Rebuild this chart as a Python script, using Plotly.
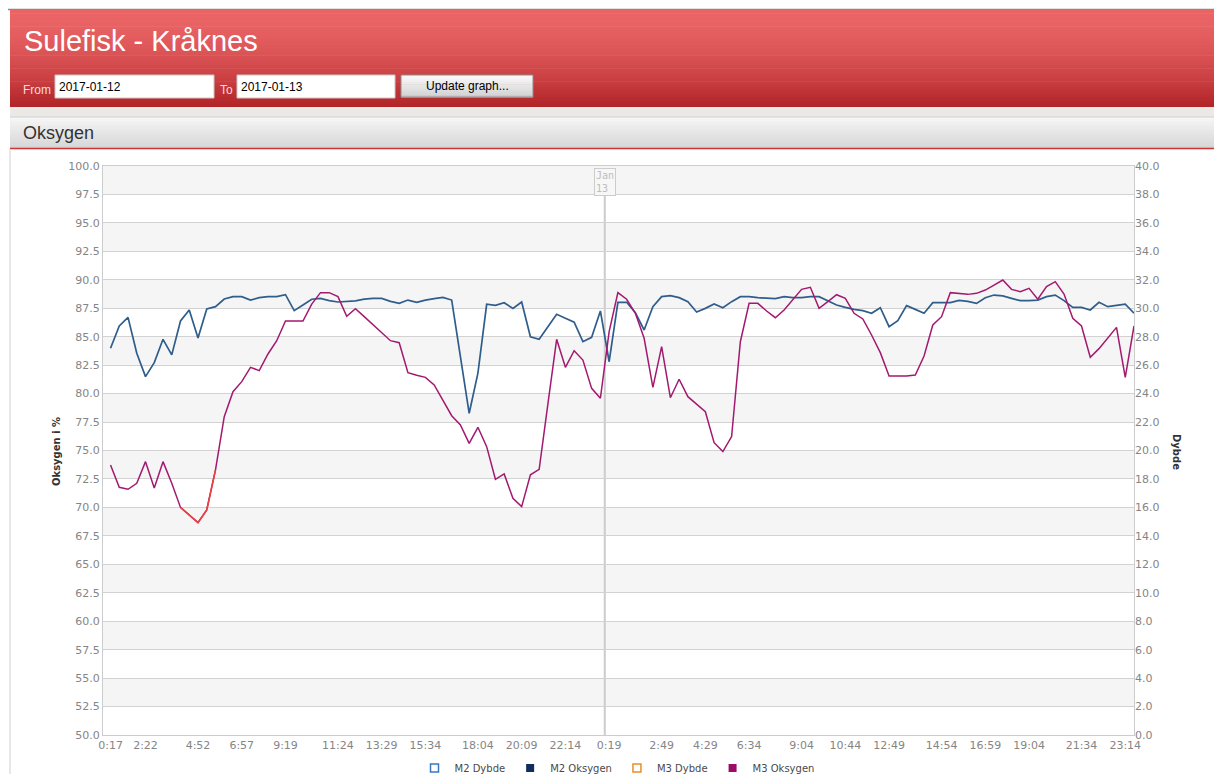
import plotly.graph_objects as go

# ---------------- data ----------------
day1_times = ["00:17", "00:47", "01:22", "01:52", "02:22",
              "02:47", "03:12", "03:37", "04:02", "04:27", "04:52",
              "05:17", "05:42", "06:07", "06:32", "06:57",
              "07:22", "07:47", "08:12", "08:54", "09:19",
              "09:39", "09:59", "10:19", "10:39", "11:04", "11:24",
              "11:49", "12:14", "12:39", "13:04", "13:29",
              "13:54", "14:19", "14:44", "15:09", "15:34",
              "15:59", "16:24", "16:49", "17:14", "17:39", "18:04",
              "18:29", "18:54", "19:19", "19:44", "20:09",
              "20:34", "20:59", "21:24", "21:49", "22:14",
              "22:39", "23:04", "23:29", "23:54"]
day2_times = ["00:19", "00:44", "01:09", "01:34", "01:59", "02:24", "02:49",
              "03:09", "03:29", "03:49", "04:09", "04:29",
              "04:54", "05:19", "05:44", "06:09", "06:34",
              "06:59", "07:24", "07:49", "08:14", "08:39", "09:04",
              "09:24", "09:44", "10:04", "10:24", "10:44",
              "11:09", "11:34", "11:59", "12:24", "12:49",
              "13:09", "13:30", "13:51", "14:12", "14:33", "14:54",
              "15:19", "15:44", "16:09", "16:34", "16:59",
              "17:24", "17:49", "18:14", "18:39", "19:04",
              "19:29", "19:54", "20:19", "20:44", "21:09", "21:34",
              "21:54", "22:14", "22:34", "22:54", "23:14",
              "23:39"]
times = ["2017-01-12 " + t for t in day1_times] + ["2017-01-13 " + t for t in day2_times]

m2_oksygen = [83.98, 85.94, 86.70, 83.54, 81.49, 82.72, 84.77, 83.40, 86.38, 87.35,
              84.89, 87.43, 87.64, 88.31, 88.52, 88.52, 88.22, 88.43, 88.52, 88.52,
              88.69, 87.29, 87.79, 88.29, 88.37, 88.17, 88.05, 88.08, 88.15, 88.30,
              88.37, 88.37, 88.10, 87.93, 88.22, 88.02, 88.22, 88.34, 88.46, 88.22,
              83.30, 78.27, 81.80, 87.85, 87.76, 87.99, 87.49, 88.05, 85.00, 84.77,
              85.88, 86.97, 86.62, 86.27, 84.56, 84.94, 87.26, 82.80, 88.02, 88.02,
              87.10, 85.59, 87.64, 88.52, 88.61, 88.43, 88.08, 87.17, 87.49, 87.87,
              87.55, 88.08, 88.52, 88.52, 88.43, 88.37, 88.34, 88.52, 88.43, 88.43,
              88.52, 88.52, 88.17, 87.79, 87.58, 87.40, 87.29, 87.06, 87.55, 85.88,
              86.40, 87.73, 87.40, 87.06, 87.99, 87.99, 87.99, 88.19, 88.11, 87.93,
              88.43, 88.66, 88.58, 88.37, 88.17, 88.17, 88.22, 88.52, 88.66, 88.17,
              87.58, 87.58, 87.35, 88.02, 87.64, 87.76, 87.87, 87.06]

m3_oksygen = [73.73, 71.77, 71.59, 72.12, 74.02, 71.70, 74.02, 72.12, 70.00, 69.30,
              68.66, 69.77, 73.29, 77.97, 80.17, 81.05, 82.31, 82.02, 83.48, 84.65,
              86.38, 86.38, 86.38, 87.87, 88.87, 88.87, 88.52, 86.80, 87.46, 86.76,
              86.03, 85.30, 84.65, 84.47, 81.84, 81.61, 81.43, 80.76, 79.44, 78.06,
              77.24, 75.63, 77.04, 75.34, 72.47, 72.94, 70.80, 70.07, 72.87, 73.35,
              79.10, 84.77, 82.31, 83.77, 82.95, 80.46, 79.59, 85.44, 88.87, 88.29,
              87.06, 84.86, 80.55, 84.12, 79.64, 81.26, 79.73, 79.09, 78.41, 75.69,
              74.90, 76.22, 84.56, 87.93, 87.93, 87.26, 86.67, 87.35, 88.22, 89.16,
              89.34, 87.49, 88.08, 88.69, 88.37, 87.06, 86.56, 85.15, 83.60, 81.55,
              81.55, 81.55, 81.63, 83.30, 86.03, 86.76, 88.87, 88.81, 88.72, 88.81,
              89.10, 89.54, 89.98, 89.16, 88.96, 89.25, 88.29, 89.40, 89.84, 88.75,
              86.62, 85.94, 83.19, 83.95, 84.86, 85.82, 81.43, 85.94]

m2_dybde = []   # no depth values drawn in the reference
m3_dybde = []

tick_times = ["2017-01-12 00:17", "2017-01-12 02:22", "2017-01-12 04:52", "2017-01-12 06:57",
              "2017-01-12 09:19", "2017-01-12 11:24", "2017-01-12 13:29", "2017-01-12 15:34",
              "2017-01-12 18:04", "2017-01-12 20:09", "2017-01-12 22:14", "2017-01-13 00:19",
              "2017-01-13 02:49", "2017-01-13 04:29", "2017-01-13 06:34", "2017-01-13 09:04",
              "2017-01-13 10:44", "2017-01-13 12:49", "2017-01-13 14:54", "2017-01-13 16:59",
              "2017-01-13 19:04", "2017-01-13 21:34", "2017-01-13 23:14"]
tick_labels = ["0:17", "2:22", "4:52", "6:57", "9:19", "11:24", "13:29", "15:34", "18:04",
               "20:09", "22:14", "0:19", "2:49", "4:29", "6:34", "9:04", "10:44", "12:49",
               "14:54", "16:59", "19:04", "21:34", "23:14"]

# ---------------- geometry helpers (page pixels -> paper) ----------------
W, H = 1214, 774
L, R, T, B = 103, 1134, 166, 735


def px(x):
    return (x - L) / (R - L)


def py(y):
    return (B - y) / (B - T)


def mix(c0, c1, t):
    return "rgb(%d,%d,%d)" % tuple(round(a + (b - a) * t) for a, b in zip(c0, c1))


shapes = []
annotations = []


def prect(x0, y0, x1, y1, fill, line=None, lw=0, layer="above"):
    shapes.append(dict(type="rect", xref="paper", yref="paper",
                       x0=px(x0), x1=px(x1), y0=py(y1), y1=py(y0),
                       fillcolor=fill, line=dict(color=line or fill, width=lw), layer=layer))


def vgrad(x0, y0, x1, y1, c0, c1, n=24, power=1.0):
    h = (y1 - y0) / n
    for k in range(n):
        t = (k / (n - 1)) ** power
        prect(x0, y0 + k * h, x1, y0 + (k + 1) * h + 0.6, mix(c0, c1, t))


def pline(x0, y0, x1, y1, color, w=1):
    shapes.append(dict(type="line", xref="paper", yref="paper",
                       x0=px(x0), x1=px(x1), y0=py(y0), y1=py(y1),
                       line=dict(color=color, width=w), layer="above"))


def ptext(x, y, text, size, color, family="Liberation Sans", xanchor="left"):
    annotations.append(dict(xref="paper", yref="paper", x=px(x), y=py(y), text=text,
                            showarrow=False, xanchor=xanchor, yanchor="middle",
                            font=dict(family=family, size=size, color=color)))


# ---------------- page header ----------------
pline(8, 9.5, W, 9.5, "#8a8a8a", 1.5)
vgrad(10, 10, W, 107, (234, 100, 102), (178, 37, 41), n=30, power=1.6)
ptext(22, 41, "Sulefisk - Kråknes", 29, "white")
ptext(21, 90, "From", 12, "#f7dcdc")
prect(55, 75, 214, 98, "white", "#c9c9c9", 1)
ptext(57, 87, "2017-01-12", 12, "black")
ptext(218, 90, "To", 12, "#f7dcdc")
prect(237, 75, 395, 98, "white", "#c9c9c9", 1)
ptext(239, 87, "2017-01-13", 12, "black")
vgrad(401, 75, 533, 97, (250, 250, 250), (210, 210, 210), n=12)
prect(401, 75, 533, 97, "rgba(0,0,0,0)", "#8c8c8c", 1)
ptext(467, 86, "Update graph...", 12, "black", xanchor="center")
prect(10, 107, W, 117, "#ebe9e6")
vgrad(10, 117, W, 148, (246, 246, 246), (214, 214, 214), n=16)
pline(10, 117, W, 117, "#cfcfcf", 1)
pline(10, 148.5, W, 148.5, "#cc3333", 1.5)
ptext(21, 133, "Oksygen", 18, "#333333")
pline(10, 149, 10, H, "#cfcfcf", 1)

# ---------------- plot decorations ----------------
for lo in [52.5, 57.5, 62.5, 67.5, 72.5, 77.5, 82.5, 87.5, 92.5, 97.5]:
    shapes.append(dict(type="rect", xref="x domain", yref="y", x0=0, x1=1, y0=lo, y1=lo + 2.5,
                       fillcolor="#f5f5f5", line=dict(width=0), layer="below"))

day_break = len(day1_times) - 0.5
shapes.append(dict(type="line", xref="x", yref="y", x0=day_break, x1=day_break, y0=50, y1=97.45,
                   line=dict(color="#cccccc", width=2), layer="below"))
annotations.append(dict(xref="x", yref="paper", x=day_break, y=py(167.5), yanchor="top",
                        text="Jan<br>13", showarrow=False, align="left",
                        font=dict(family="DejaVu Sans Mono", size=10, color="#bdbdbd"),
                        bgcolor="#f7f7f7", bordercolor="#cccccc", borderwidth=1, borderpad=1))
annotations.append(dict(xref="paper", yref="paper", x=px(57), y=py(452), text="Oksygen i %",
                        textangle=-90, showarrow=False, xanchor="center", yanchor="middle",
                        font=dict(family="DejaVu Sans", size=10, color="#333333", weight="bold")))
annotations.append(dict(xref="paper", yref="paper", x=px(1176), y=py(452), text="Dybde",
                        textangle=90, showarrow=False, xanchor="center", yanchor="middle",
                        font=dict(family="DejaVu Sans", size=10, color="#333333", weight="bold")))

# ---------------- traces ----------------
fig = go.Figure()
M2_COL = "#2f5d8c"
M3_COL = "#a3196f"
fig.add_trace(go.Scatter(x=times, y=m2_oksygen, mode="lines", line=dict(color=M2_COL, width=1.7),
                         showlegend=False, legendgroup="m2o"))
fig.add_trace(go.Scatter(x=times, y=m3_oksygen, mode="lines", line=dict(color=M3_COL, width=1.5),
                         showlegend=False, legendgroup="m3o"))
low = slice(8, 13)
fig.add_trace(go.Scatter(x=times[low], y=m3_oksygen[low], mode="lines",
                         line=dict(color="#f0403a", width=1.5), showlegend=False, legendgroup="m3o"))

fig.add_trace(go.Scatter(x=times[:len(m2_dybde)] or [None], y=m2_dybde or [None], yaxis="y2",
                         mode="markers", name="M2 Dybde",
                         marker=dict(symbol="square-open", size=8, color="#3a78c0", line=dict(width=1.5))))
fig.add_trace(go.Scatter(x=[None], y=[None], mode="markers", name="M2 Oksygen", legendgroup="m2o",
                         marker=dict(symbol="square", size=8, color="#0f2d5e")))
fig.add_trace(go.Scatter(x=times[:len(m3_dybde)] or [None], y=m3_dybde or [None], yaxis="y2",
                         mode="markers", name="M3 Dybde",
                         marker=dict(symbol="square-open", size=8, color="#e8902e", line=dict(width=1.5))))
fig.add_trace(go.Scatter(x=[None], y=[None], mode="markers", name="M3 Oksygen", legendgroup="m3o",
                         marker=dict(symbol="square", size=8, color="#9c0b66")))

tickfont = dict(family="DejaVu Sans", size=11, color="#858585")
fig.update_layout(
    width=W, height=H, autosize=False,
    margin=dict(l=L, r=W - R, t=T, b=H - B, autoexpand=False),
    paper_bgcolor="white", plot_bgcolor="rgba(0,0,0,0)",
    shapes=shapes, annotations=annotations,
    xaxis=dict(type="category", categoryorder="array", categoryarray=times,
               range=[-0.86, len(times) - 1], tickmode="array", tickvals=tick_times, ticktext=tick_labels,
               showgrid=False, showline=True, linecolor="#cccccc", linewidth=1, mirror=True,
               ticks="", tickfont=tickfont, zeroline=False, automargin=False),
    yaxis=dict(range=[50, 100], tick0=50, dtick=2.5, tickformat=".1f", showgrid=True,
               gridcolor="#d2d2d2", gridwidth=1, showline=True, linecolor="#cccccc", mirror=True,
               ticks="", tickfont=tickfont, zeroline=False, automargin=False),
    yaxis2=dict(range=[0, 40], tick0=0, dtick=2, tickformat=".1f", overlaying="y", side="right",
                showgrid=False, showline=False, ticks="", tickfont=tickfont, zeroline=False,
                automargin=False),
    legend=dict(orientation="h", xref="container", yref="container",
                x=617 / W, xanchor="center", y=(H - 768) / H, yanchor="middle",
                font=dict(family="DejaVu Sans", size=10, color="#4a4a4a"),
                bgcolor="rgba(0,0,0,0)", itemwidth=30, traceorder="normal"),
    hovermode=False,
)

fig.write_html("out.html", config={"displayModeBar": False},
               post_script="document.body.style.margin='0';")
